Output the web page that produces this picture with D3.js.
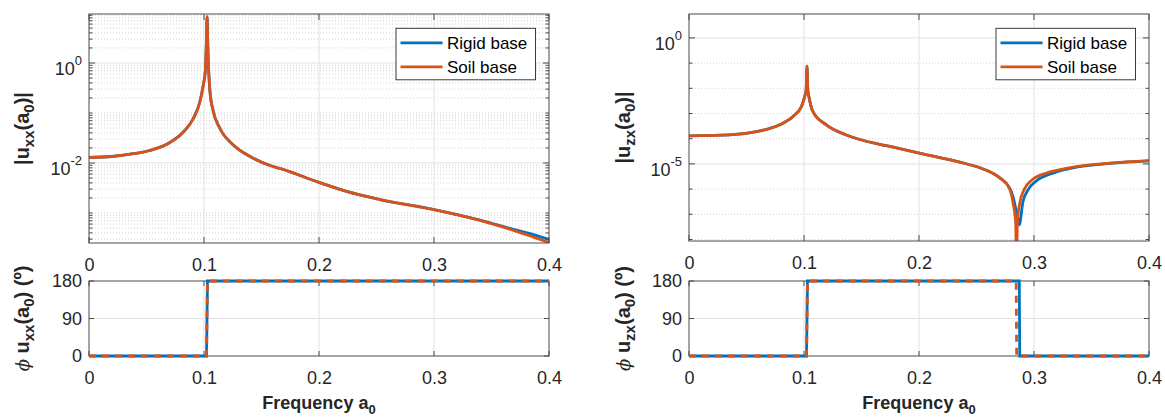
<!DOCTYPE html>
<html><head><meta charset="utf-8">
<script src="https://cdn.jsdelivr.net/npm/d3@7/dist/d3.min.js"></script>
<style>
html,body{margin:0;padding:0;background:#fff;}
svg{display:block;}
</style></head><body>
<svg id="chart" width="1165" height="417"></svg>
<script>
// ---------------- data ----------------
const freqTicks = [0, 0.1, 0.2, 0.3, 0.4];
const phaseTicks = [0, 90, 180];
const uxxLogTicks = [1e-2, 1e0];
const uzxLogTicks = [1e-5, 1e0];
const legendLabels = ["Rigid base", "Soil base"];

// |u_xx(a0)| soil base
const uxxFreqSoil = [0,0.02,0.04,0.053,0.0704,0.082,0.0907,0.0965,0.0994,0.1011,0.102,0.1027,0.1033,0.1041,0.1052,0.1081,0.1139,0.1255,0.14,0.1574,0.166,0.2,0.224,0.253,0.3,0.34,0.369,0.3864,0.4];
const uxxMagSoil  = [1.29e-2,1.35e-2,1.55e-2,1.78e-2,2.57e-2,4.17e-2,7.76e-2,0.17,0.363,0.676,2.2,8.5,2.2,0.676,0.269,0.107,4.9e-2,2.29e-2,1.35e-2,8.9e-3,7.8e-3,4.1e-3,2.7e-3,1.86e-3,1.17e-3,7.1e-4,4.5e-4,3.3e-4,2.57e-4];
// |u_xx(a0)| rigid base
const uxxFreqRigid = [0,0.02,0.04,0.053,0.0704,0.082,0.0907,0.0965,0.0994,0.1011,0.102,0.1027,0.1033,0.1041,0.1052,0.1081,0.1139,0.1255,0.14,0.1574,0.166,0.2,0.224,0.253,0.3,0.34,0.369,0.3864,0.4];
const uxxMagRigid  = [1.29e-2,1.35e-2,1.55e-2,1.78e-2,2.57e-2,4.17e-2,7.76e-2,0.17,0.363,0.676,2.2,8.5,2.2,0.676,0.269,0.107,4.9e-2,2.29e-2,1.35e-2,8.9e-3,7.8e-3,4.1e-3,2.7e-3,1.86e-3,1.17e-3,7.2e-4,4.7e-4,3.7e-4,2.95e-4];

// |u_zx(a0)| soil base
const uzxFreqSoil = [0,0.0354,0.0586,0.0789,0.0904,0.0977,0.1006,0.1019,0.1026,0.1033,0.1043,0.1078,0.1194,0.1368,0.1484,0.1658,0.1777,0.2003,0.2354,0.2528,0.2586,0.2702,0.2789,0.2818,0.2841,0.2848,0.2855,0.2876,0.2913,0.2985,0.3102,0.3217,0.3368,0.3658,0.4];
const uzxMagSoil  = [1.29e-4,1.41e-4,1.91e-4,3.55e-4,7.59e-4,1.86e-3,4.68e-3,8.9e-3,7.59e-2,8.9e-3,4.68e-3,1.2e-3,3.55e-4,1.41e-4,9.3e-5,6.0e-5,4.6e-5,2.7e-5,1.17e-5,7.1e-6,5.6e-6,2.8e-6,1.0e-6,2.75e-7,4.5e-8,3e-10,4.5e-8,2.75e-7,9.3e-7,2.34e-6,4.27e-6,5.75e-6,7.76e-6,1.07e-5,1.35e-5];
// |u_zx(a0)| rigid base
const uzxFreqRigid = [0,0.0354,0.0586,0.0789,0.0904,0.0977,0.1006,0.1019,0.1026,0.1033,0.1043,0.1078,0.1194,0.1368,0.1484,0.1658,0.1777,0.2003,0.2354,0.2528,0.2586,0.2702,0.2789,0.2818,0.2845,0.2862,0.2875,0.289,0.2904,0.2948,0.302,0.3165,0.3368,0.3658,0.4];
const uzxMagRigid  = [1.29e-4,1.41e-4,1.91e-4,3.55e-4,7.59e-4,1.86e-3,4.68e-3,8.9e-3,7.59e-2,8.9e-3,4.68e-3,1.2e-3,3.55e-4,1.41e-4,9.3e-5,6.0e-5,4.6e-5,2.7e-5,1.17e-5,7.1e-6,5.6e-6,2.8e-6,1.1e-6,4.9e-7,1.41e-7,6.3e-8,3.8e-8,1.12e-7,3.16e-7,9.3e-7,2.1e-6,4.3e-6,7.4e-6,1.04e-5,1.31e-5];

// phase (degrees)
const phxxFreq = [0,0.1022,0.103,0.4];
const phxxRigid = [0,0,180,180];
const phxxSoil = [0,0,180,180];
const phzxFreqRigid = [0,0.1022,0.103,0.2872,0.2876,0.4];
const phzxRigid = [0,0,180,180,0,0];
const phzxFreqSoil = [0,0.1022,0.103,0.2845,0.2849,0.4];
const phzxSoil = [0,0,180,180,0,0];

// ---------------- drawing ----------------
const FONT = '"Liberation Sans", Arial, Helvetica, sans-serif';
const BLUE = "#0072BD", ORANGE = "#D95319", INK = "#262626";
const COLORS = [BLUE, ORANGE];
const svg = d3.select("#chart").attr("font-family", FONT);
svg.append("rect").attr("width", 1165).attr("height", 417).attr("fill", "#fff");

const approx = (a, b) => Math.abs(Math.log10(a) - Math.log10(b)) < 1e-9;

function logGrid(dom, withMinor) {
  const lo = Math.floor(Math.log10(dom[0])), hi = Math.ceil(Math.log10(dom[1]));
  const out = [];
  for (let k = lo; k <= hi; k++) {
    for (let m = 1; m <= (withMinor ? 9 : 1); m++) {
      const v = m * Math.pow(10, k);
      if (v >= dom[0] && v <= dom[1]) out.push(v);
    }
  }
  return out;
}

function yLabel(xBase, cy, sub, phase) {
  const t = svg.append("text")
    .attr("transform", `translate(${xBase},${cy}) rotate(-90)`)
    .attr("text-anchor", "middle").attr("font-weight", "bold")
    .attr("font-size", 20).attr("fill", INK);
  if (phase) {
    t.append("tspan").attr("font-family", '"DejaVu Serif", serif').attr("font-style", "italic")
      .attr("font-weight", "normal").attr("font-size", 18).text("\u03D5");
    t.append("tspan").text(" u");
  } else {
    t.append("tspan").text("|u");
  }
  t.append("tspan").attr("font-size", 15).attr("dy", 5).text(sub);
  t.append("tspan").attr("dy", -5).text("(a");
  t.append("tspan").attr("font-size", 15).attr("dy", 5).text("0");
  t.append("tspan").attr("dy", -5).text(phase ? ") (\u00BA)" : ")|");
}

function xLabel(cx, yBase) {
  const t = svg.append("text").attr("x", cx).attr("y", yBase)
    .attr("text-anchor", "middle").attr("font-weight", "bold").attr("font-size", 18).attr("fill", INK);
  t.append("tspan").text("Frequency a");
  t.append("tspan").attr("font-size", 13).attr("dy", 5).text("0");
}

function legend(bx, by) {
  const g = svg.append("g");
  g.append("rect").attr("x", bx).attr("y", by).attr("width", 139.5).attr("height", 51.5)
    .attr("fill", "#fff").attr("stroke", INK).attr("stroke-width", 0.9);
  legendLabels.forEach((lab, i) => {
    const yy = by + 14.5 + i * 24;
    g.append("line").attr("x1", bx + 4.5).attr("x2", bx + 46.5).attr("y1", yy).attr("y2", yy)
      .attr("stroke", COLORS[i]).attr("stroke-width", 2.8);
    g.append("text").attr("x", bx + 51).attr("y", yy + 6).attr("font-size", 17).attr("fill", "#000").text(lab);
  });
}

function magPanel(o) {
  const g = svg.append("g");
  const x = d3.scaleLinear().domain([0, 0.4]).range([o.x0, o.x1]);
  const y = d3.scaleLog().domain(o.ydom).range([o.y1, o.y0]);
  const clipId = "clip" + o.id;
  svg.append("clipPath").attr("id", clipId).append("rect")
    .attr("x", o.x0).attr("y", o.y0).attr("width", o.x1 - o.x0).attr("height", o.y1 - o.y0);

  const gridVals = logGrid(o.ydom, o.minor);
  const minorVals = gridVals.filter(v => !o.ticks.some(t => approx(t, v)));
  g.append("g").selectAll("line").data(minorVals).join("line")
    .attr("x1", o.x0).attr("x2", o.x1).attr("y1", d => y(d)).attr("y2", d => y(d))
    .attr("stroke", "#c8c8c8").attr("stroke-width", 0.8).attr("stroke-dasharray", "1,2");
  g.append("g").selectAll("line").data(o.ticks).join("line")
    .attr("x1", o.x0).attr("x2", o.x1).attr("y1", d => y(d)).attr("y2", d => y(d))
    .attr("stroke", "#e2e2e2").attr("stroke-width", 1);
  g.append("g").selectAll("line").data(freqTicks.slice(1, -1)).join("line")
    .attr("x1", d => x(d)).attr("x2", d => x(d)).attr("y1", o.y0).attr("y2", o.y1)
    .attr("stroke", "#e2e2e2").attr("stroke-width", 1);

  const line = d3.line().x(d => x(d[0])).y(d => y(d[1])).curve(d3.curveMonotoneX);
  o.series.forEach((s, i) => {
    g.append("path").attr("clip-path", `url(#${clipId})`)
      .datum(d3.zip(s[0], s[1])).attr("d", line)
      .attr("fill", "none").attr("stroke", COLORS[i]).attr("stroke-width", 2.8)
      .attr("stroke-linejoin", "round");
  });

  g.append("rect").attr("x", o.x0).attr("y", o.y0).attr("width", o.x1 - o.x0).attr("height", o.y1 - o.y0)
    .attr("fill", "none").attr("stroke", "#4a4a4a").attr("stroke-width", 1);

  const tk = g.append("g").attr("stroke", "#4a4a4a").attr("stroke-width", 1);
  gridVals.forEach(v => {
    const len = o.ticks.some(t => approx(t, v)) ? 6 : 3.5;
    tk.append("line").attr("x1", o.x0).attr("x2", o.x0 + len).attr("y1", y(v)).attr("y2", y(v));
    tk.append("line").attr("x1", o.x1).attr("x2", o.x1 - len).attr("y1", y(v)).attr("y2", y(v));
  });
  freqTicks.forEach(v => {
    tk.append("line").attr("x1", x(v)).attr("x2", x(v)).attr("y1", o.y1).attr("y2", o.y1 - 6);
    tk.append("line").attr("x1", x(v)).attr("x2", x(v)).attr("y1", o.y0).attr("y2", o.y0 + 6);
  });

  const ax = g.append("g").attr("transform", `translate(0,${o.y1})`)
    .call(d3.axisBottom(x).tickValues(freqTicks).tickSize(0).tickPadding(15).tickFormat(d3.format("")));
  ax.select(".domain").remove();
  ax.attr("font-size", 18).attr("font-family", FONT).attr("color", INK);

  const ay = g.append("g").attr("transform", `translate(${o.x0},0)`)
    .call(d3.axisLeft(y).tickValues(o.ticks).tickSize(0).tickPadding(7).tickFormat(() => ""));
  ay.select(".domain").remove();
  ay.attr("font-size", 18).attr("font-family", FONT).attr("color", INK);
  ay.selectAll(".tick text").each(function(d) {
    const t = d3.select(this).attr("dy", "0.62em");
    t.append("tspan").text("10");
    t.append("tspan").attr("font-size", 13).attr("dy", "-0.75em").text(String(Math.round(Math.log10(d))));
  });

  yLabel(o.labelX, (o.y0 + o.y1) / 2, o.sub, false);
  legend(o.legX, 28.3);
}

function phasePanel(o) {
  const g = svg.append("g");
  const x = d3.scaleLinear().domain([0, 0.4]).range([o.x0, o.x1]);
  const y = d3.scaleLinear().domain([0, 180]).range([o.y1, o.y0]);

  g.append("g").selectAll("line").data(freqTicks.slice(1, -1)).join("line")
    .attr("x1", d => x(d)).attr("x2", d => x(d)).attr("y1", o.y0).attr("y2", o.y1)
    .attr("stroke", "#e2e2e2").attr("stroke-width", 1);
  g.append("g").selectAll("line").data(phaseTicks.slice(1, -1)).join("line")
    .attr("x1", o.x0).attr("x2", o.x1).attr("y1", d => y(d)).attr("y2", d => y(d))
    .attr("stroke", "#e2e2e2").attr("stroke-width", 1);

  g.append("rect").attr("x", o.x0).attr("y", o.y0).attr("width", o.x1 - o.x0).attr("height", o.y1 - o.y0)
    .attr("fill", "none").attr("stroke", "#4a4a4a").attr("stroke-width", 1);
  const tk = g.append("g").attr("stroke", "#4a4a4a").attr("stroke-width", 1);
  freqTicks.forEach(v => {
    tk.append("line").attr("x1", x(v)).attr("x2", x(v)).attr("y1", o.y1).attr("y2", o.y1 - 5);
    tk.append("line").attr("x1", x(v)).attr("x2", x(v)).attr("y1", o.y0).attr("y2", o.y0 + 5);
  });
  phaseTicks.forEach(v => {
    tk.append("line").attr("x1", o.x0).attr("x2", o.x0 + 5).attr("y1", y(v)).attr("y2", y(v));
    tk.append("line").attr("x1", o.x1).attr("x2", o.x1 - 5).attr("y1", y(v)).attr("y2", y(v));
  });

  const line = d3.line().x(d => x(d[0])).y(d => y(d[1]));
  g.append("path").datum(d3.zip(o.rigid[0], o.rigid[1])).attr("d", line)
    .attr("fill", "none").attr("stroke", BLUE).attr("stroke-width", 2.8);
  g.append("path").datum(d3.zip(o.soil[0], o.soil[1])).attr("d", line)
    .attr("fill", "none").attr("stroke", ORANGE).attr("stroke-width", 2.8).attr("stroke-dasharray", "7,6");

  const ax = g.append("g").attr("transform", `translate(0,${o.y1})`)
    .call(d3.axisBottom(x).tickValues(freqTicks).tickSize(0).tickPadding(15).tickFormat(d3.format("")));
  ax.select(".domain").remove();
  ax.attr("font-size", 18).attr("font-family", FONT).attr("color", INK);
  const ay = g.append("g").attr("transform", `translate(${o.x0},0)`)
    .call(d3.axisLeft(y).tickValues(phaseTicks).tickSize(0).tickPadding(7).tickFormat(d3.format("")));
  ay.select(".domain").remove();
  ay.attr("font-size", 18).attr("font-family", FONT).attr("color", INK);

  yLabel(o.labelX, (o.y0 + o.y1) / 2, o.sub, true);
  xLabel((o.x0 + o.x1) / 2, 409);
}

magPanel({id: "a", x0: 89, x1: 549, y0: 14, y1: 243, ydom: [Math.pow(10, -3.6), Math.pow(10, 0.98)],
  ticks: uxxLogTicks, minor: true, sub: "xx", labelX: 29, legX: 396,
  series: [[uxxFreqRigid, uxxMagRigid], [uxxFreqSoil, uxxMagSoil]]});
magPanel({id: "b", x0: 689, x1: 1149, y0: 14, y1: 241, ydom: [Math.pow(10, -8.06), Math.pow(10, 0.95)],
  ticks: uzxLogTicks, minor: false, sub: "zx", labelX: 630, legX: 996,
  series: [[uzxFreqRigid, uzxMagRigid], [uzxFreqSoil, uzxMagSoil]]});
phasePanel({x0: 89, x1: 549, y0: 281, y1: 356, sub: "xx", labelX: 29,
  rigid: [phxxFreq, phxxRigid], soil: [phxxFreq, phxxSoil]});
phasePanel({x0: 689, x1: 1149, y0: 281, y1: 356, sub: "zx", labelX: 630,
  rigid: [phzxFreqRigid, phzxRigid], soil: [phzxFreqSoil, phzxSoil]});
</script>
</body></html>
